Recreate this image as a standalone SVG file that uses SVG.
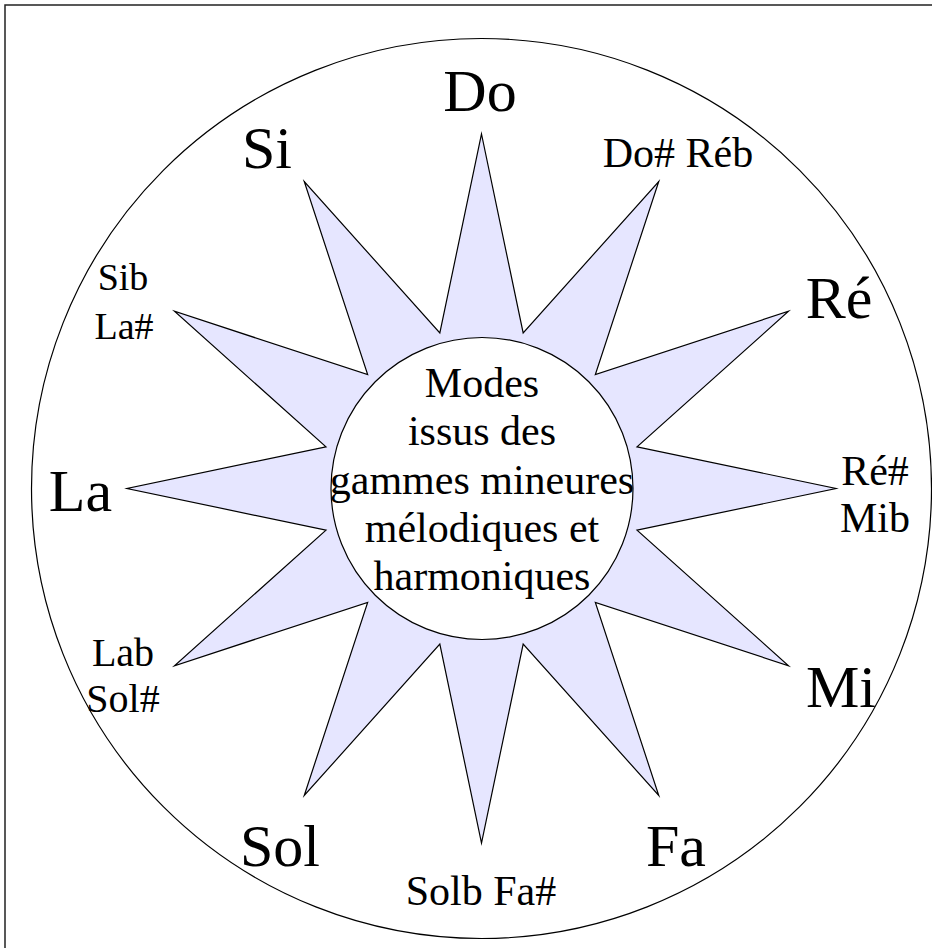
<svg xmlns="http://www.w3.org/2000/svg" width="932" height="948" viewBox="0 0 932 948">
<style>
text{font-family:"Liberation Serif","Times New Roman",serif;fill:#000;}
.big{font-size:60px;text-anchor:middle;}
.sm{font-size:42px;text-anchor:middle;}
.ctr{font-size:42px;text-anchor:middle;}
.line{fill:none;stroke:#000;stroke-width:1.2;}
</style>
<rect x="5" y="5" width="1000" height="1000" fill="#fff" stroke="#222" stroke-width="1.5"/>
<g id="outer-circle"><circle cx="481.5" cy="488.5" r="450" class="line"/></g>
<g id="star"><polygon fill="#e6e6ff" stroke="#000" stroke-width="1.2" stroke-linejoin="miter" stroke-miterlimit="20" points="481.5,134 523.17,332.99 658.75,181.49 595.34,374.66 788.51,311.25 637.01,446.83 836,488.5 637.01,530.17 788.51,665.75 595.34,602.34 658.75,795.51 523.17,644.01 481.5,843 439.83,644.01 304.25,795.51 367.66,602.34 174.49,665.75 325.99,530.17 127,488.5 325.99,446.83 174.49,311.25 367.66,374.66 304.25,181.49 439.83,332.99"/></g>
<g id="connectors"></g>
<g id="center"><circle cx="482" cy="488.5" r="151" fill="#fff" stroke="#000" stroke-width="1.2"/>
<text class="ctr" x="482" y="397">Modes</text>
<text class="ctr" x="482" y="445">issus des</text>
<text class="ctr" x="482" y="494">gammes mineures</text>
<text class="ctr" x="482" y="542">mélodiques et</text>
<text class="ctr" x="482" y="590">harmoniques</text>
</g>
<g id="do"><text class="big" x="480" y="111">Do</text></g>
<g id="dos"><text class="sm" x="678" y="167">Do# Réb</text></g>
<g id="re"><text class="big" x="839" y="318">Ré</text></g>
<g id="res"><text class="sm" x="875" y="485">Ré#</text><text class="sm" x="875" y="532">Mib</text></g>
<g id="mi"><text class="big" x="841" y="707">Mi</text></g>
<g id="fa"><text class="big" x="676" y="866">Fa</text></g>
<g id="solb"><text class="sm" x="481" y="905">Solb Fa#</text></g>
<g id="sol"><text class="big" x="280" y="866">Sol</text></g>
<g id="lab"><text class="sm" x="123" y="666" style="font-size:40px">Lab</text><text class="sm" x="123" y="712" style="font-size:40px">Sol#</text></g>
<g id="la"><text class="big" x="80.5" y="511">La</text></g>
<g id="sib"><text class="sm" x="123" y="290" style="font-size:38px">Sib</text><text class="sm" x="124" y="339" style="font-size:38px">La#</text></g>
<g id="si"><text class="big" x="267" y="168">Si</text></g>
</svg>
